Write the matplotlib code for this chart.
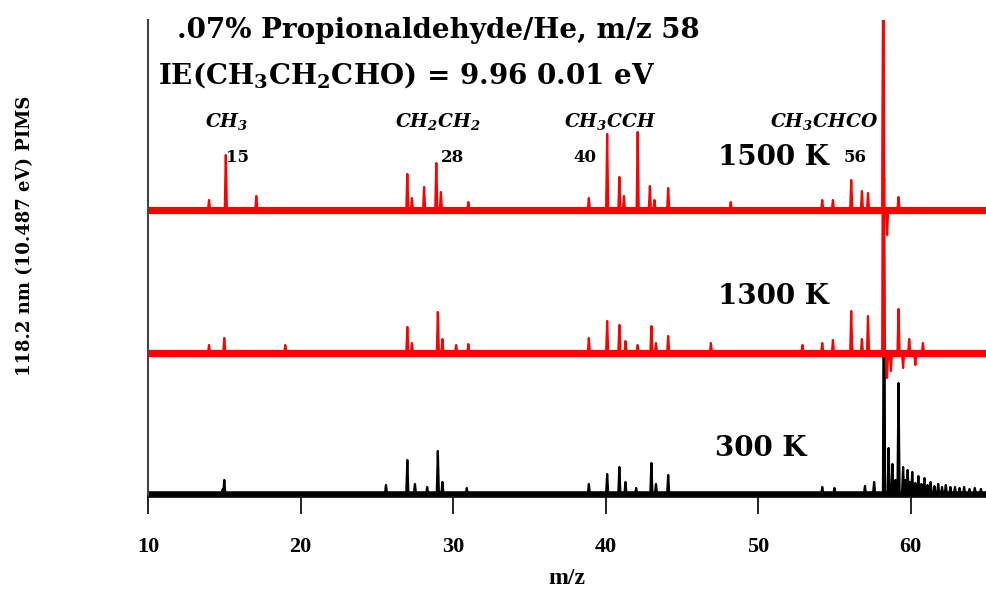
import matplotlib
matplotlib.use("Agg")
import matplotlib.pyplot as plt
import numpy as np

plt.rcParams['font.family'] = ['DejaVu Serif']
plt.rcParams['mathtext.default'] = 'regular'

# peak lists: m/z and height (pixels above each baseline)
mz_300 = [14.9, 15.0, 25.6, 27.0, 27.5, 28.3, 29.0, 29.3, 30.9, 38.9, 40.1, 40.9, 41.3, 42.0,
          43.0, 43.3, 44.1, 54.2, 55.0, 57.0, 57.6, 58.25, 58.55, 58.8, 59.0, 59.2, 59.5, 59.65,
          59.8, 59.95, 60.1, 60.3, 60.5, 60.7, 60.9, 61.1, 61.3, 61.55, 61.8, 62.05, 62.3, 62.6,
          62.9, 63.2, 63.5, 63.85, 64.2, 64.6]
h_300 = [5, 14, 9, 34, 10, 7, 43, 12, 6, 10, 20, 27, 12, 6,
         31, 10, 19, 7, 6, 8, 12, 317, 46, 30, 14, 111, 27, 14,
         24, 12, 22, 11, 18, 10, 16, 9, 12, 8, 10, 7, 9, 7,
         7, 6, 7, 5, 6, 5]

mz_1300 = [14.0, 15.0, 19.0, 27.0, 27.3, 29.0, 29.3, 30.2, 31.0, 38.9, 40.1, 40.9, 41.3, 42.1,
           43.0, 43.3, 44.1, 46.9, 52.9, 54.2, 54.9, 56.1, 56.8, 57.2, 58.2, 58.45, 58.7, 59.2,
           59.5, 59.9, 60.3, 60.8]
h_1300 = [8, 15, 8, 26, 10, 41, 14, 8, 9, 15, 32, 28, 12, 8,
          27, 10, 17, 10, 8, 10, 13, 42, 14, 37, 400, -25, -18, 44,
          -15, 14, -12, 10]

mz_1500 = [14.0, 15.1, 17.1, 27.0, 27.3, 28.1, 28.9, 29.2, 31.0, 38.9, 40.1, 40.9, 41.2, 42.1,
           42.9, 43.2, 44.1, 48.2, 54.2, 54.9, 56.1, 56.8, 57.2, 58.2, 58.45, 59.2]
h_1500 = [10, 55, 14, 36, 12, 23, 47, 18, 8, 12, 76, 33, 14, 78,
          24, 10, 22, 8, 10, 10, 30, 19, 17, 260, -25, 13]

baselines = [3, 144, 287]
temps = ['300 K', '1300 K', '1500 K']
colors = ['black', 'red', 'red']
noise_lw = [4.0, 5.2, 5.2]

fragments = ['$CH_3$', '$CH_2CH_2$', '$CH_3CCH$', '$CH_3CHCO$']
frag_mz = ['15', '28', '40', '56']


def stick_trace(mz, h, w=0.07, lo=10, hi=65):
    xs, ys = [lo], [0]
    for m, hh in sorted(zip(mz, h)):
        xs += [m - w, m, m + w]
        ys += [0, hh, 0]
    xs.append(hi)
    ys.append(0)
    return np.array(xs), np.array(ys)


W, H = 987, 595
fig = plt.figure(figsize=(W / 100, H / 100), dpi=100)
ax = fig.add_axes([148 / W, 98 / H, (W - 148) / W, 477 / H])

for (mz, h), base, c, lw in zip([(mz_300, h_300), (mz_1300, h_1300), (mz_1500, h_1500)],
                                baselines, colors, noise_lw):
    ax.plot([10, 65], [base, base], color=c, lw=lw, solid_capstyle='butt')
    xs, ys = stick_trace(mz, h)
    ax.plot(xs, ys + base, color=c, lw=1.6)

ax.set_xlim(10, 65)
ax.set_ylim(0, 477)
ax.set_xticks(range(10, 61, 10))
ax.set_yticks([])
for s in ['top', 'right']:
    ax.spines[s].set_visible(False)
ax.spines['left'].set_color('#444444')
ax.spines['left'].set_linewidth(1.5)
ax.spines['bottom'].set_linewidth(1.2)
ax.tick_params(axis='x', direction='out', length=12, width=1.2, pad=17)
for lab in ax.get_xticklabels():
    lab.set_fontweight('bold')
    lab.set_fontsize(16)
    lab.set_family('Liberation Serif')


def px(x, y):
    return x / W, 1 - y / H


fig.text(*px(438, 30), '.07% Propionaldehyde/He, m/z 58', fontsize=20, fontweight='bold',
         ha='center', va='center')
fig.text(*px(407, 75), 'IE(CH$_3$CH$_2$CHO) = 9.96 0.01 eV', fontsize=20, fontweight='bold',
         ha='center', va='center')

for x, t in zip([227, 438, 610, 824], fragments):
    fig.text(*px(x, 122), t, fontsize=13.5, fontweight='bold', fontstyle='italic',
             ha='center', va='center')
for x, t in zip([238, 453, 585, 855], frag_mz):
    fig.text(*px(x, 158), t, fontsize=12, fontweight='bold',
             ha='center', va='center')

for (x, y), t in zip([(761, 449), (773, 296), (773, 158)], temps):
    fig.text(*px(x, y), t, fontsize=20, fontweight='bold', ha='center', va='center')

fig.text(*px(25, 236), '118.2 nm (10.487 eV) PIMS', fontsize=13, fontweight='bold',
         rotation=90, ha='center', va='center')
fig.text(*px(567, 578), 'm/z', fontsize=17, fontweight='bold', family='Liberation Serif',
         ha='center', va='center')

fig.savefig('out.png', dpi=100)
